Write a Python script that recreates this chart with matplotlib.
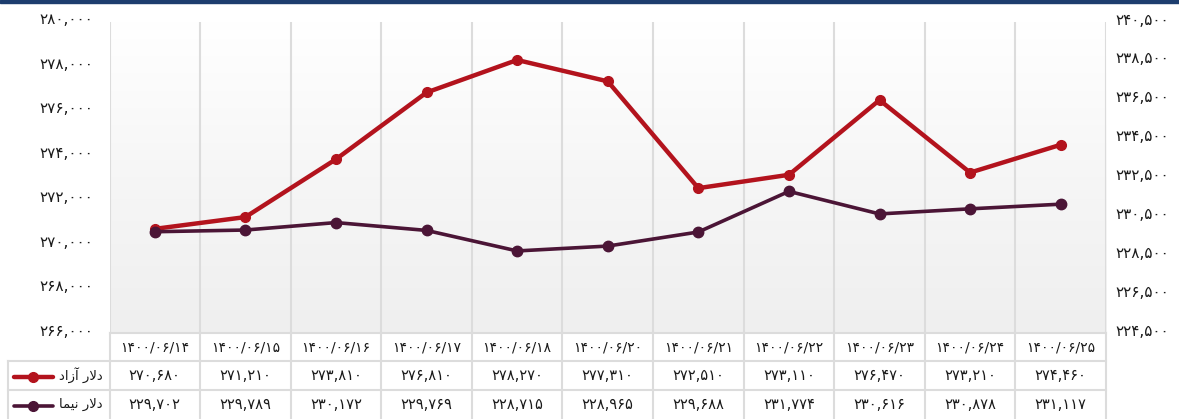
import numpy as np
import matplotlib
matplotlib.use("Agg")
import matplotlib.pyplot as plt
import matplotlib.transforms as mtransforms
from matplotlib.colors import LinearSegmentedColormap
from matplotlib.patches import Rectangle

dates = ["1400/06/14", "1400/06/15", "1400/06/16", "1400/06/17", "1400/06/18",
         "1400/06/20", "1400/06/21", "1400/06/22", "1400/06/23", "1400/06/24", "1400/06/25"]
free_rate = [270680, 271210, 273810, 276810, 278270, 277310, 272510, 273110, 276470, 273210, 274460]
nima_rate = [229702, 229789, 230172, 229769, 228715, 228965, 229688, 231774, 230616, 230878, 231117]
left_ticks = [266000, 268000, 270000, 272000, 274000, 276000, 278000, 280000]
right_ticks = [224500, 226500, 228500, 230500, 232500, 234500, 236500, 238500, 240500]

# series names, shaped by hand (matplotlib does no RTL shaping):
# "دلار آزاد" and "دلار نیما" written as presentation forms in visual order
free_name = "\ufea9\ufe8d\ufeaf\ufe81 \ufead\ufefb\ufea9"
nima_name = "\ufe8e\ufee4\ufef4\ufee7 \ufead\ufefb\ufea9"

RED = "#b3131d"
PURPLE = "#4b1536"
GRID = "#dcdcdc"
TXT = "#1a1a1a"
FA = str.maketrans("0123456789", "۰۱۲۳۴۵۶۷۸۹")


def fa(v):
    if isinstance(v, str):
        return v.translate(FA)
    return f"{v:,}".translate(FA)


W, H = 1179, 419
fig = plt.figure(figsize=(W / 100, H / 100), dpi=100)
fig.patch.set_facecolor("white")
plt.rcParams["font.family"] = ["DejaVu Sans"]


def box(x0, y0, x1, y1):
    return [x0 / W, 1 - y1 / H, (x1 - x0) / W, (y1 - y0) / H]


PL, PT, PR, PB = 109.5, 21.5, 1106, 333

# gradient background of the plot
bg = fig.add_axes(box(PL, PT, PR, PB), zorder=0)
cmap = LinearSegmentedColormap.from_list("bg", ["#efefef", "#f6f6f6", "#ffffff"])
bg.imshow(np.linspace(0, 1, 256).reshape(-1, 1), cmap=cmap, aspect="auto",
          origin="lower", extent=[0, 1, 0, 1])
bg.axis("off")

ax = fig.add_axes(box(PL, PT, PR, PB), zorder=1)
ax.patch.set_visible(False)
x = np.arange(len(dates))
ax.set_xlim(-0.5, len(dates) - 0.5)
ax.set_ylim(left_ticks[0], left_ticks[-1])
for edge in np.arange(-0.5, len(dates)):
    ax.axvline(edge, color=GRID, lw=1.5, zorder=0)
ax.plot(x, free_rate, color=RED, lw=3.2, marker="o", ms=7, zorder=3)
ax.set_xticks([])
ax.set_yticks(left_ticks)
ax.set_yticklabels([fa(v) for v in left_ticks], fontsize=11, color=TXT)
ax.tick_params(axis="y", length=0, pad=12)
for s in ax.spines.values():
    s.set_visible(False)

ax2 = ax.twinx()
ax2.set_ylim(right_ticks[0], right_ticks[-1])
ax2.plot(x, nima_rate, color=PURPLE, lw=2.6, marker="o", ms=7.5, zorder=3)
ax2.set_yticks(right_ticks)
ax2.set_yticklabels([fa(v) for v in right_ticks], fontsize=11, color=TXT)
ax2.tick_params(axis="y", length=0, pad=7)
for s in ax2.spines.values():
    s.set_visible(False)

up = mtransforms.ScaledTranslation(0, 0.03, fig.dpi_scale_trans)
for lab in ax.get_yticklabels() + ax2.get_yticklabels():
    lab.set_transform(lab.get_transform() + up)

# data table under the chart
tab = fig.add_axes([0, 0, 1, 1], zorder=2)
tab.set_xlim(0, W)
tab.set_ylim(H, 0)
tab.axis("off")
cols = mtransforms.blended_transform_factory(ax.transData, tab.transData)

rows = [333, 361, 390, 419]
tab.plot([PL, PR], [rows[0], rows[0]], color=GRID, lw=1.5)
for r in rows[1:3]:
    tab.plot([8, PR], [r, r], color=GRID, lw=1.5)
for edge in np.arange(-0.5, len(dates)):
    tab.plot([edge, edge], [rows[0], rows[-1]], color=GRID, lw=1.5, transform=cols)
tab.plot([8, 8], [rows[1], rows[-1]], color=GRID, lw=1.5)

mid = [(rows[i] + rows[i + 1]) / 2 for i in range(3)]
for i, d in enumerate(dates):
    tab.text(i, mid[0], fa(d), transform=cols, ha="center", va="center",
             fontsize=10, color=TXT)
    tab.text(i, mid[1], fa(free_rate[i]), transform=cols, ha="center", va="center",
             fontsize=10.5, color=TXT)
    tab.text(i, mid[2], fa(nima_rate[i]), transform=cols, ha="center", va="center",
             fontsize=10.5, color=TXT)

for name, color, lw, y in [(free_name, RED, 3.2, mid[1]), (nima_name, PURPLE, 2.6, mid[2])]:
    tab.plot([14, 53], [y + 1, y + 1], color=color, lw=lw, solid_capstyle="round")
    tab.plot([33], [y + 1], marker="o", ms=7, color=color)
    tab.text(103, y, name, ha="right", va="center", fontsize=9.5, color=TXT)

# navy strip at the top
fig.patches.append(Rectangle((0, 1 - 3 / H), 1, 3 / H, transform=fig.transFigure,
                             color="#1d3d6e", zorder=5))

fig.savefig("out.png", dpi=100)
